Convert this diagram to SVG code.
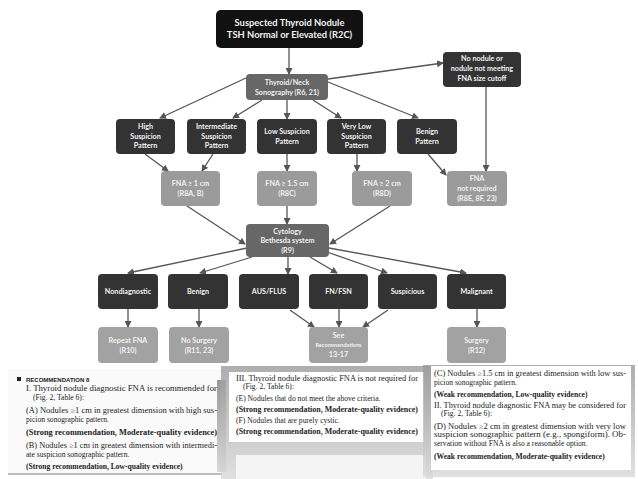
<svg xmlns="http://www.w3.org/2000/svg" width="638" height="479" viewBox="0 0 638 479">
<defs>
<style>
.n text{font-family:Lato,"Open Sans","DejaVu Sans",sans-serif;font-weight:bold;text-anchor:middle;fill:#f2f2f2;font-size:7.2px}
.blk{fill:#111}
.dk{fill:#333}
.md{fill:#676767}
.lt{fill:#9b9b9b}
.lt2{fill:#a2a2a2}
.c line{stroke:#555;stroke-width:1.3;marker-end:url(#ah)}
.p text{font-family:"Liberation Serif","Times New Roman",serif;font-size:7.6px;fill:#222}
.p .b{font-weight:bold}
</style>
<marker id="ah" markerWidth="7" markerHeight="7" refX="6" refY="3.5" orient="auto" markerUnits="userSpaceOnUse">
<path d="M0,0 L7,3.5 L0,7 Z" fill="#555"/>
</marker>
<linearGradient id="sh" x1="0" y1="0" x2="0" y2="1">
<stop offset="0" stop-color="#9a9a9a"/>
<stop offset="1" stop-color="#d8d8d8"/>
</linearGradient>
</defs>
<rect width="638" height="479" fill="#fff"/>

<g class="c" id="connectors">
<line x1="289" y1="48" x2="289" y2="74"/>
<line x1="328" y1="79" x2="443" y2="63"/>
<line x1="246" y1="78" x2="160" y2="118"/>
<line x1="262" y1="100" x2="233" y2="118"/>
<line x1="287" y1="100" x2="287" y2="119"/>
<line x1="313" y1="100" x2="341" y2="118"/>
<line x1="328" y1="82" x2="418" y2="118"/>
<line x1="486" y1="87" x2="486" y2="171"/>
<line x1="145" y1="154" x2="168" y2="171"/>
<line x1="213" y1="154" x2="202" y2="171"/>
<line x1="287" y1="154" x2="287" y2="171"/>
<line x1="357" y1="154" x2="357" y2="171"/>
<line x1="428" y1="154" x2="446" y2="175"/>
<line x1="187" y1="206" x2="245" y2="244"/>
<line x1="287" y1="206" x2="287" y2="224"/>
<line x1="390" y1="206" x2="330" y2="244"/>
<line x1="247" y1="248" x2="128" y2="273"/>
<line x1="252" y1="257" x2="200" y2="273"/>
<line x1="288" y1="257" x2="288" y2="274"/>
<line x1="310" y1="257" x2="337" y2="273"/>
<line x1="327" y1="252" x2="387" y2="273"/>
<line x1="329" y1="248" x2="466" y2="273"/>
<line x1="128" y1="309" x2="128" y2="327"/>
<line x1="199" y1="309" x2="199" y2="327"/>
<line x1="290" y1="310" x2="314" y2="327"/>
<line x1="339" y1="309" x2="339" y2="327"/>
<line x1="388" y1="310" x2="363" y2="327"/>
<line x1="477" y1="309" x2="477" y2="327"/>
</g>

<g class="n" id="n-top"><rect class="blk" x="216" y="10" width="147" height="38" rx="5"/>
<text x="289.5" y="26" style="font-size:9.4px">Suspected Thyroid Nodule</text>
<text x="289.5" y="38" style="font-size:9.4px">TSH Normal or Elevated (R2C)</text></g>

<g class="n" id="n-sono"><rect class="md" x="246" y="74" width="82" height="26" rx="4"/>
<text x="287" y="85">Thyroid/Neck</text><text x="287" y="95">Sonography (R6, 21)</text></g>

<g class="n" id="n-nonodule"><rect class="dk" x="443" y="52" width="78" height="35" rx="4"/>
<text x="482" y="61">No nodule or</text><text x="482" y="71">nodule not meeting</text><text x="482" y="81">FNA size cutoff</text></g>

<g class="n" id="n-high"><rect class="dk" x="116" y="119" width="59" height="35" rx="4"/>
<text x="145.5" y="129">High</text><text x="145.5" y="138.5">Suspicion</text><text x="145.5" y="148">Pattern</text></g>
<g class="n" id="n-inter"><rect class="dk" x="187" y="119" width="59" height="35" rx="4"/>
<text x="216.5" y="129">Intermediate</text><text x="216.5" y="138.5">Suspicion</text><text x="216.5" y="148">Pattern</text></g>
<g class="n" id="n-low"><rect class="dk" x="257" y="119" width="60" height="35" rx="4"/>
<text x="287" y="134">Low Suspicion</text><text x="287" y="144">Pattern</text></g>
<g class="n" id="n-vlow"><rect class="dk" x="327" y="119" width="59" height="35" rx="4"/>
<text x="356.5" y="129">Very Low</text><text x="356.5" y="138.5">Suspicion</text><text x="356.5" y="148">Pattern</text></g>
<g class="n" id="n-benpat"><rect class="dk" x="397" y="119" width="60" height="35" rx="4"/>
<text x="427" y="134">Benign</text><text x="427" y="144">Pattern</text></g>

<g class="n" id="n-fna1"><rect class="lt" x="161" y="171" width="59" height="35" rx="4"/>
<text x="190.5" y="186">FNA ≥ 1 cm</text><text x="190.5" y="196">(R8A, B)</text></g>
<g class="n" id="n-fna15"><rect class="lt" x="257" y="171" width="60" height="35" rx="4"/>
<text x="287" y="186">FNA ≥ 1.5 cm</text><text x="287" y="196">(R8C)</text></g>
<g class="n" id="n-fna2"><rect class="lt" x="352" y="171" width="60" height="35" rx="4"/>
<text x="382" y="186">FNA ≥ 2 cm</text><text x="382" y="196">(R8D)</text></g>
<g class="n" id="n-fnanr"><rect class="lt" x="447" y="171" width="60" height="35" rx="4"/>
<text x="477" y="181">FNA</text><text x="477" y="191">not required</text><text x="477" y="201">(R8E, 8F, 23)</text></g>

<g class="n" id="n-cyto"><rect class="md" x="246" y="224" width="83" height="33" rx="4"/>
<text x="287.5" y="233.5">Cytology</text><text x="287.5" y="243">Bethesda system</text><text x="287.5" y="252.5">(R9)</text></g>

<g class="n" id="n-nondiag"><rect class="dk" x="98" y="274" width="60" height="35" rx="4"/>
<text x="128" y="294">Nondiagnostic</text></g>
<g class="n" id="n-benign"><rect class="dk" x="168" y="274" width="60" height="35" rx="4"/>
<text x="198" y="294">Benign</text></g>
<g class="n" id="n-aus"><rect class="dk" x="239" y="274" width="60" height="35" rx="4"/>
<text x="269" y="294">AUS/FLUS</text></g>
<g class="n" id="n-fn"><rect class="dk" x="309" y="274" width="59" height="35" rx="4"/>
<text x="338.5" y="294">FN/FSN</text></g>
<g class="n" id="n-susp"><rect class="dk" x="378" y="274" width="59" height="35" rx="4"/>
<text x="407.5" y="294">Suspicious</text></g>
<g class="n" id="n-malig"><rect class="dk" x="447" y="274" width="59" height="35" rx="4"/>
<text x="476.5" y="294">Malignant</text></g>

<g class="n" id="n-repeat"><rect class="lt2" x="98" y="327" width="60" height="36" rx="4"/>
<text x="128" y="342.5">Repeat FNA</text><text x="128" y="352.5">(R10)</text></g>
<g class="n" id="n-nosurg"><rect class="lt2" x="169" y="327" width="60" height="36" rx="4"/>
<text x="199" y="342.5">No Surgery</text><text x="199" y="352.5">(R11, 23)</text></g>
<g class="n" id="n-see"><rect class="lt2" x="309" y="327" width="59" height="36" rx="4"/>
<text x="338.5" y="338">See</text><text x="338.5" y="347" style="font-size:5.6px">Recommendations</text><text x="338.5" y="357">13-17</text></g>
<g class="n" id="n-surg"><rect class="lt2" x="447" y="327" width="59" height="36" rx="4"/>
<text x="476.5" y="342.5">Surgery</text><text x="476.5" y="352.5">(R12)</text></g>

<g class="p" id="panel1">
<rect x="8" y="369" width="214" height="106" fill="#fafafa"/>
<rect x="217" y="380" width="9" height="92" fill="url(#sh)"/>
<rect x="8" y="473" width="214" height="2" fill="#bbb"/>
<rect x="17" y="377" width="4" height="4" fill="#222"/>
<text x="26" y="382" style="font-family:'Liberation Sans',Arial,sans-serif;font-weight:bold;font-size:6px">RECOMMENDATION 8</text>
<text x="26" y="391" textLength="191" lengthAdjust="spacingAndGlyphs">I. Thyroid nodule diagnostic FNA is recommended for</text>
<text x="33" y="400">(Fig. 2, Table 6):</text>
<text x="26" y="413" textLength="191" lengthAdjust="spacingAndGlyphs">(A) Nodules ≥1 cm in greatest dimension with high sus-</text>
<text x="26" y="422">picion sonographic pattern.</text>
<text class="b" x="26" y="435" textLength="191" lengthAdjust="spacingAndGlyphs">(Strong recommendation, Moderate-quality evidence)</text>
<text x="26" y="448" textLength="191" lengthAdjust="spacingAndGlyphs">(B) Nodules ≥1 cm in greatest dimension with intermedi-</text>
<text x="26" y="457">ate suspicion sonographic pattern.</text>
<text class="b" x="26" y="469">(Strong recommendation, Low-quality evidence)</text>
</g>

<g class="p" id="panel2">
<rect x="221" y="366" width="212" height="113" fill="url(#sh)" opacity="0.8"/>
<rect x="229" y="372" width="195" height="70" fill="#fff"/>
<rect x="236" y="455" width="190" height="24" fill="#f4f4f4"/>
<text x="236" y="381" textLength="182" lengthAdjust="spacingAndGlyphs">III. Thyroid nodule diagnostic FNA is not required for</text>
<text x="243" y="389">(Fig. 2, Table 6):</text>
<text x="236" y="401">(E) Nodules that do not meet the above criteria.</text>
<text class="b" x="236" y="412" textLength="182" lengthAdjust="spacingAndGlyphs">(Strong recommendation, Moderate-quality evidence)</text>
<text x="236" y="423">(F) Nodules that are purely cystic.</text>
<text class="b" x="236" y="434" textLength="182" lengthAdjust="spacingAndGlyphs">(Strong recommendation, Moderate-quality evidence)</text>
</g>

<g class="p" id="panel3">
<rect x="423" y="365" width="212" height="112" fill="url(#sh)" opacity="0.8"/>
<rect x="431" y="366" width="200" height="104" fill="#fff"/>
<text x="434" y="376" textLength="192" lengthAdjust="spacingAndGlyphs">(C) Nodules ≥1.5 cm in greatest dimension with low sus-</text>
<text x="434" y="385">picion sonographic pattern.</text>
<text class="b" x="434" y="397">(Weak recommendation, Low-quality evidence)</text>
<text x="434" y="408" textLength="192" lengthAdjust="spacingAndGlyphs">II. Thyroid nodule diagnostic FNA may be considered for</text>
<text x="441" y="416">(Fig. 2, Table 6):</text>
<text x="434" y="429" textLength="192" lengthAdjust="spacingAndGlyphs">(D) Nodules ≥2 cm in greatest dimension with very low</text>
<text x="434" y="437" textLength="192" lengthAdjust="spacingAndGlyphs">suspicion sonographic pattern (e.g., spongiform). Ob-</text>
<text x="434" y="446">servation without FNA is also a reasonable option.</text>
<text class="b" x="434" y="459">(Weak recommendation, Moderate-quality evidence)</text>
</g>
</svg>
